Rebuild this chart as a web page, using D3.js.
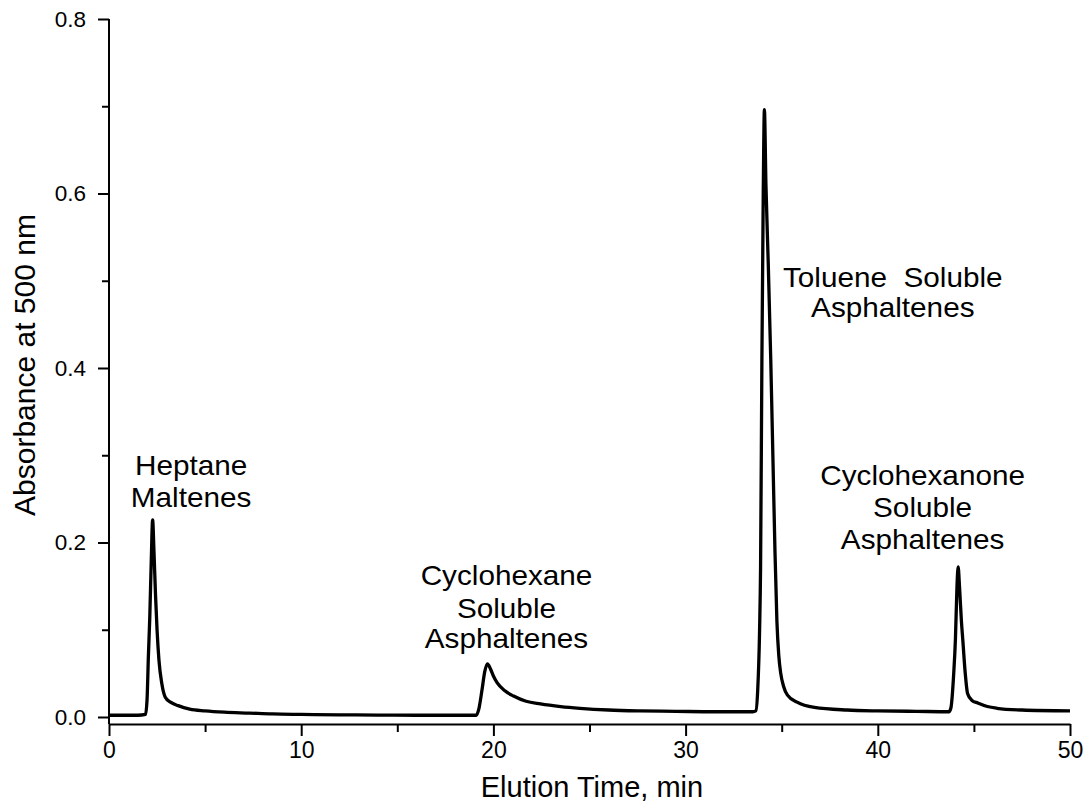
<!DOCTYPE html>
<html>
<head>
<meta charset="utf-8">
<script src="https://cdn.jsdelivr.net/npm/d3@7"></script>
<style>
  html, body { margin: 0; padding: 0; background: #fff; }
  svg { display: block; font-family: "Liberation Sans", Arial, Helvetica, sans-serif; }
</style>
</head>
<body>
<svg id="chart" width="1092" height="809"></svg>
<script>
// ---- data ----
const elutionTime = [
  0, 1.5, 1.9, 1.98, 2.05, 2.12, 2.2, 2.27, 2.34, 2.42, 2.5, 2.6, 2.75, 2.92, 3.2, 3.6, 4.2, 5.0, 6.0, 7.3, 8.5,
  10, 12, 14, 16, 18, 19.1, 19.25, 19.4, 19.55, 19.69, 19.85, 20.0, 20.2, 20.6, 21.05, 21.7, 22.45, 23.5, 24.5,
  26, 27.6, 29.5, 31.5, 33.5, 33.65, 33.75, 33.85, 33.9, 33.97, 34.04, 34.1, 34.18, 34.3, 34.43, 34.55, 34.65,
  34.75, 34.85, 34.95, 35.1, 35.3, 35.8, 36.7, 38.4, 40, 42, 43.7, 43.8, 43.95, 44.04, 44.12, 44.18, 44.25, 44.35, 44.43,
  44.55, 44.67, 44.9, 45.2, 45.7, 46.2, 47.5, 50
];
const absorbance = [
  0.002, 0.002, 0.003, 0.02, 0.07, 0.113, 0.18, 0.226, 0.19, 0.14, 0.1, 0.065, 0.038, 0.023, 0.017, 0.013, 0.009, 0.007, 0.0055, 0.0045, 0.0035,
  0.003, 0.0025, 0.0022, 0.002, 0.002, 0.002, 0.01, 0.03, 0.052, 0.061, 0.055, 0.047, 0.039, 0.03, 0.024, 0.018, 0.015, 0.012, 0.010,
  0.008, 0.007, 0.0065, 0.006, 0.006, 0.007, 0.03, 0.1, 0.17, 0.41, 0.6, 0.696, 0.61, 0.52, 0.41, 0.29, 0.19,
  0.11, 0.07, 0.05, 0.035, 0.025, 0.017, 0.011, 0.008, 0.007, 0.0065, 0.006, 0.01, 0.05, 0.09, 0.15, 0.172, 0.15, 0.11, 0.086,
  0.05, 0.027, 0.019, 0.016, 0.012, 0.01, 0.008, 0.007
];
const xMajorTicks = [0, 10, 20, 30, 40, 50];
const xMinorTicks = [5, 15, 25, 35, 45];
const yMajorTicks = [0.0, 0.2, 0.4, 0.6, 0.8];
const yMinorTicks = [0.1, 0.3, 0.5, 0.7];
const xTitle = "Elution Time, min";
const yTitle = "Absorbance at 500 nm";
// annotation lines and their anchor in data units
const annotationLines = [
  ["Heptane", "Maltenes"],
  ["Cyclohexane", "Soluble", "Asphaltenes"],
  ["Toluene\u00A0\u00A0Soluble", "Asphaltenes"],
  ["Cyclohexanone", "Soluble", "Asphaltenes"]
];
const annotationTime = [4.27, 20.68, 40.78, 42.33];
const annotationAbs = [
  [0.277, 0.241],
  [0.151, 0.113, 0.079],
  [0.493, 0.458],
  [0.266, 0.229, 0.193]
];

// ---- layout ----
const svg = d3.select("#chart");
const x = d3.scaleLinear().domain([0, 50]).range([109, 1070]);
const y = d3.scaleLinear().domain([0, 0.8]).range([717, 19]);
const xAxisY = y(0) + 7;

const data = elutionTime.map((t, i) => ({ t, a: absorbance[i] }));

// x axis
const gx = svg.append("g").attr("transform", `translate(0,${xAxisY})`);
gx.call(d3.axisBottom(x).tickValues(xMajorTicks).tickFormat(d3.format("d")).tickSize(12).tickPadding(6).tickSizeOuter(0));
gx.append("g").call(d3.axisBottom(x).tickValues(xMinorTicks).tickFormat("").tickSize(8).tickSizeOuter(0))
  .select(".domain").remove();
gx.selectAll("text").attr("font-size", 23).attr("font-family", "Liberation Sans, Arial, sans-serif").attr("fill", "#000");
gx.selectAll("line, path").attr("stroke", "#000").attr("stroke-width", 2);

// y axis
const gy = svg.append("g").attr("transform", `translate(${x(0)},0)`);
gy.call(d3.axisLeft(y).tickValues(yMajorTicks).tickFormat(d3.format(".1f")).tickSize(11).tickPadding(12).tickSizeOuter(0));
gy.append("g").call(d3.axisLeft(y).tickValues(yMinorTicks).tickFormat("").tickSize(7).tickSizeOuter(0))
  .select(".domain").remove();
gy.select(".domain").attr("d", `M0,${y(0.8)}V${xAxisY}`);
gy.selectAll("text").attr("font-size", 22.5).attr("font-family", "Liberation Sans, Arial, sans-serif").attr("fill", "#000");
gy.selectAll("line, path").attr("stroke", "#000").attr("stroke-width", 2);

// titles
svg.append("text")
  .attr("x", 592).attr("y", 797)
  .attr("text-anchor", "middle")
  .attr("font-size", 29)
  .text(xTitle);
svg.append("text")
  .attr("transform", `translate(35,365) rotate(-90)`)
  .attr("text-anchor", "middle")
  .attr("font-size", 30)
  .text(yTitle);

// trace
svg.append("path")
  .datum(data)
  .attr("fill", "none")
  .attr("stroke", "#000")
  .attr("stroke-width", 3.3)
  .attr("stroke-linejoin", "round")
  .attr("d", d3.line().x(d => x(d.t)).y(d => y(d.a)).curve(d3.curveMonotoneX));

// annotations
annotationLines.forEach((lines, i) => {
  lines.forEach((txt, j) => {
    svg.append("text")
      .attr("transform", `translate(${x(annotationTime[i])},${y(annotationAbs[i][j])}) scale(1.1,1)`)
      .attr("text-anchor", "middle")
      .attr("font-size", 27)
      .attr("fill", "#000")
      .text(txt);
  });
});
</script>
</body>
</html>
